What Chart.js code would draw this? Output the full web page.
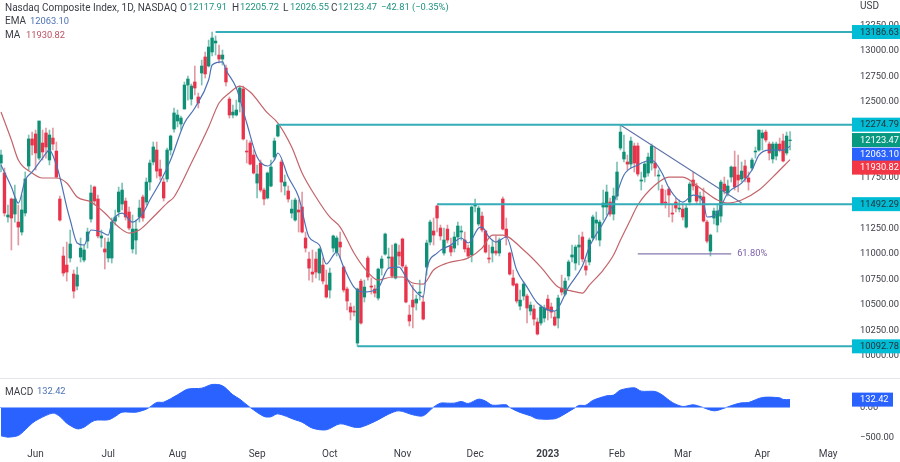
<!DOCTYPE html>
<html>
<head>
<meta charset="utf-8">
<title>Nasdaq Composite Index</title>
<script src="https://cdn.jsdelivr.net/npm/chart.js@4"></script>
<style>
  html, body { margin: 0; padding: 0; background: #fff; }
  canvas { display: block; }
</style>
</head>
<body>
<canvas id="chart" width="900" height="462"></canvas>
<script>
// Candles, oldest first
const opens = [
  11897,11799,11366,11543,11395,11316,11218,11405,11868,12134,
  12183,11946,12094,12193,11927,12143,12015,11543,10982,10893,
  10962,10804,10686,10972,10942,11129,11346,11661,11543,11159,
  11051,10962,10962,11326,11415,11494,11523,11415,11051,11139,
  11366,11563,11513,11710,11907,12025,11838,11710,11740,12025,
  12232,12311,12281,12429,12665,12527,12695,12547,12783,12941,
  12852,12990,13079,12960,12921,12832,12527,12370,12370,12498,
  12626,12015,12094,11976,11700,11897,11631,11553,11671,11956,
  12163,11907,11671,11622,11405,11336,11435,11464,11159,10952,
  10824,10952,10814,10893,10696,10647,11060,11021,11119,10873,
  10657,10480,10440,10125,10735,10578,10962,10686,10657,10568,
  10863,11001,10962,10972,10765,11021,11149,10873,10401,10548,
  10519,10617,10529,10873,11119,11228,11474,11257,11011,11247,
  11080,11060,11169,11218,11139,11060,10992,11474,11297,11375,
  11228,10962,11011,11031,11011,11543,11247,11011,10765,10706,
  10489,10588,10588,10440,10460,10332,10322,10371,10558,10480,
  10381,10371,10666,10607,10785,10972,10913,11070,11169,10883,
  10923,11159,11306,11139,11464,11464,11513,11395,11572,12045,
  11937,11907,11887,12065,12065,11720,11759,11799,11897,11897,
  11769,11641,11513,11641,11405,11513,11444,11444,11267,11513,
  11730,11671,11553,11563,11316,11031,11356,11287,11375,11690,
  11602,11759,11858,11779,11740,11868,11750,11848,12006,12025,
  12143,12202,12084,11937,11966,12084,12114,11996,12117.91
];
const closes = [
  11976,11405,11385,11356,11543,11267,11435,11740,12134,12074,
  11996,12311,12006,12055,12173,12084,11759,11336,10814,10824,
  11100,10637,10795,11060,11041,11218,11602,11523,11179,11179,
  11021,11119,11316,11366,11612,11631,11366,11257,11247,11247,
  11454,11356,11710,11897,12055,11818,11769,11553,12025,12163,
  12390,12370,12340,12665,12724,12655,12636,12488,12852,12774,
  13039,13128,13098,12921,12960,12695,12370,12399,12419,12636,
  12134,12006,11887,11799,11789,11631,11543,11799,11858,12114,
  12271,11710,11710,11543,11444,11533,11415,11218,11060,10863,
  10804,10824,11051,10735,10578,10814,11179,11159,11070,10647,
  10539,10430,10430,10657,10322,10676,10775,10676,10617,10853,
  10952,11198,10972,10785,11100,10982,10883,10529,10342,10480,
  10558,10627,10361,11110,11316,11188,11356,11179,11139,11139,
  11021,11169,11277,11228,11051,10982,11464,11484,11454,11238,
  11021,10952,11070,11011,11139,11247,11169,10804,10696,10539,
  10548,10706,10470,10499,10361,10214,10480,10470,10450,10430,
  10302,10568,10627,10735,10923,10992,11070,11090,10952,10844,
  11139,11366,11336,11316,11503,11612,11395,11572,11809,12202,
  12005,11887,12114,11897,11789,11730,11887,11956,12065,11848,
  11779,11494,11503,11582,11395,11454,11454,11366,11454,11690,
  11671,11523,11572,11326,11129,11188,11425,11425,11710,11621,
  11671,11858,11661,11730,11818,11750,11710,11927,12015,12222,
  12193,12124,11996,12084,12084,12025,11917,12163,12123.47
];
const highs = [
  12025,11848,11484,11553,11681,11484,11582,11809,12173,12202,
  12222,12311,12222,12242,12222,12242,12104,11572,11070,11119,
  11238,10844,10873,11159,11090,11257,11681,11671,11582,11238,
  11159,11159,11356,11435,11661,11700,11553,11464,11385,11336,
  11533,11582,11750,11927,12104,12104,11927,11750,12045,12173,
  12439,12419,12360,12695,12754,12675,12852,12586,12911,12990,
  13108,13187,13148,13059,13010,12862,12547,12468,12517,12655,
  12655,12124,12114,12025,11878,11927,11651,11809,11927,12143,
  12281,11927,11779,11671,11533,11553,11533,11612,11218,11021,
  11041,11021,11060,10962,10844,10863,11188,11179,11218,10883,
  10676,10519,10489,10666,10755,10745,10982,10765,10696,10863,
  10982,11208,11060,11090,11110,11090,11159,10893,10499,10696,
  10597,10745,10597,11139,11336,11356,11484,11287,11257,11287,
  11159,11218,11316,11277,11218,11090,11474,11543,11474,11415,
  11238,11090,11139,11179,11159,11563,11356,11021,10844,10716,
  10647,10726,10607,10529,10499,10371,10499,10499,10597,10519,
  10430,10597,10794,10765,10942,11090,11090,11188,11218,10942,
  11159,11385,11415,11336,11631,11681,11553,11651,11907,12271,
  12173,11976,12153,12094,12094,11809,11907,11996,12084,12055,
  11828,11681,11631,11661,11484,11553,11533,11484,11484,11710,
  11809,11700,11612,11651,11336,11198,11454,11484,11730,11759,
  11730,11868,12015,11976,11907,11927,11809,11946,12055,12222,
  12222,12222,12104,12104,12104,12143,12183,12202,12205.72
];
const lows = [
  11809,11375,11316,11041,11316,11090,11188,11375,11828,11976,
  11828,11927,11927,11946,11878,12025,11750,11326,10785,10735,
  10923,10568,10647,10923,10923,11060,11316,11484,11159,11070,
  10854,10923,10913,11287,11366,11435,11336,11238,11011,11001,
  11316,11326,11484,11631,11878,11750,11730,11523,11710,11976,
  12202,12252,12222,12429,12517,12468,12567,12439,12665,12734,
  12842,12951,12960,12882,12862,12655,12340,12340,12360,12399,
  12124,11897,11878,11789,11553,11612,11484,11543,11661,11927,
  12153,11612,11582,11513,11356,11326,11218,11208,11021,10745,
  10725,10765,10745,10706,10568,10568,11021,10982,10962,10627,
  10450,10352,10391,10093,10312,10529,10745,10607,10578,10548,
  10794,10991,10863,10765,10755,10893,10863,10519,10293,10273,
  10450,10548,10352,10794,11090,11090,11218,11139,10991,11110,
  10982,11021,11090,11139,11021,10962,10923,11415,11277,11218,
  11011,10913,10923,10991,10982,11238,11090,10794,10686,10519,
  10450,10548,10322,10401,10302,10204,10302,10332,10352,10371,
  10293,10273,10597,10588,10745,10923,10844,10893,10923,10794,
  10893,11139,11139,11080,11336,11385,11375,11336,11533,12025,
  11907,11828,11848,11808,11769,11631,11710,11769,11828,11769,
  11631,11484,11454,11366,11316,11415,11415,11336,11257,11484,
  11631,11494,11484,11316,11110,10982,11297,11218,11316,11592,
  11572,11710,11631,11612,11710,11710,11631,11828,11946,12015,
  12025,12104,11927,11897,11927,12006,11907,11976,12026.55
];

// EMA and MA, read at the bars where the curve could be made out
const emaBars = [0,3,5,7,9,12,14,16,17,19,20,22,24,26,29,31,32,35,38,41,43,46,49,53,56,60,61,64,65,68,71,74,77,79,80,83,86,89,92,94,97,99,102,105,109,112,115,117,119,122,123,126,130,133,135,138,139,141,143,146,149,152,155,160,164,168,170,174,177,180,184,188,191,193,197,200,203,204,207,210,214,217,219,222,226,228];
const emaValues = [11878,11661,11503,11730,11809,11946,12025,11878,11759,11464,11336,11110,11090,11238,11218,11188,11307,11405,11316,11405,11533,11710,11927,12291,12439,12714,12862,12892,12813,12636,12291,11956,11868,11927,11996,11759,11563,11169,11090,10903,11021,10873,10676,10627,10666,10863,10873,10775,10666,10578,10844,11011,11090,11159,11110,11257,11267,11169,11119,11169,10844,10676,10519,10440,10676,10883,11070,11307,11503,11779,11878,11927,11799,11651,11513,11582,11503,11366,11405,11602,11700,11828,11976,12025,12025,12063.10];
const maBars = [0,3,5,9,12,16,19,22,26,30,34,37,40,44,48,50,55,60,63,66,69,72,77,80,84,87,91,95,98,102,105,109,113,116,119,122,125,129,135,139,142,145,151,156,161,165,168,170,174,177,179,182,184,189,193,197,202,207,210,214,219,223,228];
const maValues = [12399,12124,11927,11799,11750,11750,11700,11563,11513,11405,11267,11208,11238,11366,11503,11563,11897,12252,12488,12586,12655,12596,12390,12291,12055,11799,11563,11366,11267,11011,10863,10745,10775,10775,10716,10706,10844,10913,10962,11060,11188,11188,11041,10873,10676,10637,10617,10696,10844,10991,11139,11346,11484,11681,11759,11759,11651,11533,11503,11533,11631,11759,11930.82];

// MACD pane
const macdBars = [0,2,5,7,9,11,15,17,19,22,24,27,31,33,35,39,42,43,45,47,51,54,58,61,64,67,69,72,76,78,80,85,87,90,94,98,102,104,108,112,115,119,122,125,127,129,131,133,135,138,140,142,146,147,150,153,155,160,162,166,167,169,171,175,177,179,183,185,189,191,194,197,200,202,206,209,212,214,216,220,225,226,228];
const macdValues = [-477,-499,-471,-376,-264,-191,-95,-151,-264,-359,-331,-219,-208,-151,-79,-79,-28,6,84,90,213,309,325,387,365,213,140,0,-151,-157,-107,-208,-247,-348,-376,-275,-331,-331,-236,-112,-56,-123,-140,6,73,73,73,101,67,140,107,39,45,0,-84,-140,-191,-191,-140,0,34,39,118,196,208,292,331,275,269,213,84,17,45,17,-56,-11,50,78,84,168,163,135,132.42];

// Horizontal levels and their first bar
const levelValues = [13186.63, 12274.79, 11492.29, 10092.78];
const levelBars = [62, 80, 126, 103];

// Trend line and the fib level
const trendBars = [179, 214];
const trendValues = [12271, 11503];
const fibBars = [184, 211];
const fibValues = [11003, 11003];

const priceTicks = [10000,10250,10500,10750,11000,11250,11500,11750,12000,12250,12500,12750,13000,13250];
const macdTicks = [0, -500];
const monthBars = [10, 31, 51, 74, 95, 116, 137, 158, 178, 197, 220, 239];
const monthNames = ['Jun','Jul','Aug','Sep','Oct','Nov','Dec','2023','Feb','Mar','Apr','May'];

const FONT = 'Roboto, sans-serif';
const GREEN = '#0e8f76';
const RED = '#e8334a';
const LAST_SLOT = 245.9;

const toPoints = (bars, values) => bars.map((b, i) => ({ x: b, y: values[i] }));
const isUp = i => closes[i] >= opens[i];

function lineSet(bars, values, color, width, order, axis) {
    return {
        type: 'line',
        data: toPoints(bars, values),
        borderColor: color,
        borderWidth: width,
        pointRadius: 0,
        fill: false,
        order: order,
        yAxisID: axis || 'y'
    };
}

const curve = { tension: 0.35, cubicInterpolationMode: 'monotone' };

const datasets = [
    Object.assign(lineSet(emaBars, emaValues, '#4c72b5', 1.2, 2), curve),
    Object.assign(lineSet(maBars, maValues, '#c4646a', 1.2, 3), curve),
    lineSet(trendBars, trendValues, '#5f73a8', 1.1, 1),
    lineSet(fibBars, fibValues, '#8678ad', 1.1, 1),
    {
        type: 'bar',
        data: opens.map((o, i) => ({ x: i, y: [o, closes[i]] })),
        backgroundColor: c => isUp(c.dataIndex) ? GREEN : RED,
        barThickness: 2.7,
        grouped: false,
        order: 5,
        yAxisID: 'y'
    },
    {
        type: 'bar',
        data: lows.map((l, i) => ({ x: i, y: [l, highs[i]] })),
        backgroundColor: c => isUp(c.dataIndex) ? 'rgba(14,143,118,0.55)' : 'rgba(200,70,85,0.55)',
        barThickness: 1,
        grouped: false,
        order: 6,
        yAxisID: 'y'
    },
    {
        type: 'line',
        data: toPoints(macdBars, macdValues),
        borderColor: '#2962ff',
        borderWidth: 1,
        backgroundColor: '#2962ff',
        pointRadius: 0,
        fill: 'origin',
        tension: 0.3,
        order: 8,
        yAxisID: 'macd'
    },
    lineSet([-1, 228], [0, 0], '#8fb0ff', 1, 7, 'macd')
];

levelValues.forEach((v, i) => {
    datasets.push(lineSet([levelBars[i], LAST_SLOT], [v, v], '#35adb8', 2, 0));
});

// Price tags, header and the separator are text and rules on top of the chart
const overlay = {
    id: 'overlay',
    afterDraw(chart) {
        const ctx = chart.ctx;
        const y = chart.scales.y;
        const macd = chart.scales.macd;
        const x = chart.scales.x;
        ctx.save();

        // pane separator
        ctx.strokeStyle = '#e3e5ea';
        ctx.lineWidth = 1;
        ctx.beginPath();
        ctx.moveTo(0, 378.5);
        ctx.lineTo(900, 378.5);
        ctx.stroke();

        ctx.textBaseline = 'middle';
        ctx.textAlign = 'left';
        const put = (txt, px, py, color, font) => {
            ctx.font = font || ('9.3px ' + FONT);
            ctx.fillStyle = color;
            ctx.fillText(txt, px, py);
        };
        const words = '10px ' + FONT;

        // price tags on the right axis
        const tag = (value, shift, color, txt) => {
            const py = y.getPixelForValue(value) + shift;
            ctx.fillStyle = color;
            ctx.fillRect(852, py - 7, 48, 14);
            put(txt, 860, py + 0.5, color === '#00bcd4' ? '#23323a' : '#fff');
        };
        levelValues.forEach(v => tag(v, 0, '#00bcd4', v.toFixed(2)));
        tag(12123.47, 0, '#089981', '12123.47');
        tag(12063.10, 8.5, '#2962ff', '12063.10');
        tag(11930.82, 8, '#f23645', '11930.82');

        const my = macd.getPixelForValue(132.42);
        ctx.fillStyle = '#2962ff';
        ctx.fillRect(852, my - 7, 41, 14);
        put('132.42', 860, my + 0.5, '#fff');

        put('61.80%', x.getPixelForValue(213) - 1, y.getPixelForValue(11003), '#7b5fa8');

        // header
        const dark = '#3a3d45';
        const teal = '#1f9280';
        put('Nasdaq Composite Index, 1D, NASDAQ', 5, 8, dark, words);
        put('O', 180, 8, dark, words); put('12117.91', 188, 8, teal);
        put('H', 232, 8, dark, words); put('12205.72', 240, 8, teal);
        put('L', 283, 8, dark, words); put('12026.55', 290, 8, teal);
        put('C', 331, 8, dark, words); put('12123.47', 338, 8, teal);
        put('\u221242.81 (\u22120.35%)', 381, 8, teal);
        put('EMA', 5, 21.5, dark, words); put('12063.10', 30, 21.5, '#4c72b5');
        put('MA', 5, 35.5, dark, words); put('11930.82', 26, 35.5, '#b9505f');
        put('USD', 860, 6, dark, words);
        put('MACD', 5, 392, dark, words); put('132.42', 37, 392, '#4c72b5');

        ctx.restore();
    }
};

new Chart(document.getElementById('chart'), {
    data: { datasets: datasets },
    plugins: [overlay],
    options: {
        responsive: false,
        animation: false,
        devicePixelRatio: 1,
        layout: { padding: 0 },
        plugins: { legend: { display: false }, tooltip: { enabled: false } },
        scales: {
            x: {
                type: 'linear',
                offset: false,
                min: -0.29,
                max: LAST_SLOT,
                grid: { display: false, drawTicks: false },
                border: { display: false },
                afterBuildTicks: s => { s.ticks = monthBars.map(b => ({ value: b })); },
                afterFit: s => { s.height = 20; s.paddingLeft = 0; s.paddingRight = 0; },
                ticks: {
                    autoSkip: false,
                    maxRotation: 0,
                    padding: 6,
                    color: '#3a3d45',
                    font: c => ({ family: FONT, size: 10, weight: c.tick && c.tick.value === 158 ? 'bold' : 'normal' }),
                    callback: v => monthNames[monthBars.indexOf(v)]
                }
            },
            y: {
                position: 'right',
                stack: 'panes',
                stackWeight: 378,
                min: 9781,
                max: 13502,
                grid: { display: false, drawTicks: false },
                border: { display: false },
                afterBuildTicks: s => { s.ticks = priceTicks.map(v => ({ value: v })); },
                afterFit: s => { s.width = 48; s.paddingTop = 0; s.paddingBottom = 0; },
                ticks: {
                    padding: 8,
                    color: '#3a3d45',
                    font: { family: FONT, size: 9.3 },
                    autoSkip: false,
                    callback: v => v.toFixed(2)
                }
            },
            macd: {
                position: 'right',
                stack: 'panes',
                stackWeight: 64,
                min: -581,
                max: 496,
                grid: { display: false, drawTicks: false },
                border: { display: false },
                afterBuildTicks: s => { s.ticks = macdTicks.map(v => ({ value: v })); },
                afterFit: s => { s.width = 48; s.paddingTop = 0; s.paddingBottom = 0; },
                ticks: {
                    padding: 8,
                    color: '#3a3d45',
                    font: { family: FONT, size: 9.3 },
                    autoSkip: false,
                    callback: v => v.toFixed(2).replace('-', '\u2212')
                }
            }
        }
    }
});
</script>
</body>
</html>
